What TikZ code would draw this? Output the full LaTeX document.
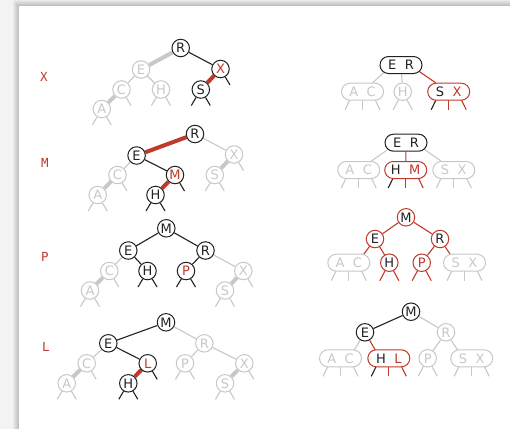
\documentclass[tikz,border=0pt]{standalone}
\usepackage{fontspec}
\setmainfont{DejaVu Sans}
\newfontfamily\labfont{DejaVu Sans Mono}
\usetikzlibrary{shapes.misc}
\pgfdeclarelayer{bg}
\pgfdeclarelayer{links}
\pgfsetlayers{bg,links,main}
\definecolor{ink}{HTML}{222222}
\definecolor{pale}{HTML}{C8C8C8}
\definecolor{rd}{HTML}{C0392B}
\definecolor{pagebg}{HTML}{F3F3F3}
\tikzset{
  nd/.style={circle, minimum size=17.5pt, inner sep=0pt, line width=1pt, fill=white, font=\fontsize{13}{13}\selectfont},
  bk/.style={nd, draw=ink, text=ink},
  gy/.style={nd, draw=pale, text=pale},
  bkr/.style={nd, draw=ink, text=rd},
  rr/.style={nd, draw=rd, text=ink},
  rrr/.style={nd, draw=rd, text=rd},
  tri/.style={rounded rectangle, minimum width=42pt, minimum height=17pt, inner sep=0pt, line width=1pt, fill=white, font=\fontsize{13}{13}\selectfont},
  tbk/.style={tri, draw=ink, text=ink},
  tgy/.style={tri, draw=pale, text=pale},
  trd/.style={tri, draw=rd, text=ink},
  lk/.style={line width=1.1pt, draw=ink},
  lg/.style={line width=1.1pt, draw=pale},
  lr/.style={line width=1.1pt, draw=rd},
  tr/.style={line width=4pt, draw=rd},
  tg/.style={line width=4pt, draw=pale},
  rowlab/.style={text=rd, font=\labfont\fontsize{12.5}{13}\selectfont},
}
% null links of a binary-tree node
\newcommand\nullL[3]{\coordinate (#1-nl) at ([shift={(-9.5,#3)}]#1.center);
  \draw[#2] (#1) -- (#1-nl);}
\newcommand\nullR[3]{\coordinate (#1-nr) at ([shift={(9.5,#3)}]#1.center);
  \draw[#2] (#1) -- (#1-nr);}
% null links of a 3-node
\newcommand\nullsThree[4]{%
  \coordinate (#1-nl) at ([shift={(-17.5,18)}]#1.center);
  \coordinate (#1-nm) at ([shift={(0,18)}]#1.center);
  \coordinate (#1-nr) at ([shift={(17.5,18)}]#1.center);
  \draw[#2] ([xshift=-8.7pt]#1.center) -- (#1-nl);
  \draw[#3] (#1.center) -- (#1-nm);
  \draw[#4] ([xshift=8.7pt]#1.center) -- (#1-nr);}
\newcommand\gap{\hspace{8.5pt}}
\begin{document}
\begin{tikzpicture}[x=1pt,y=-1pt]
\useasboundingbox (0,0) rectangle (510,429);
\begin{pgfonlayer}{bg}
  \fill[pagebg] (0,0) rectangle (510,429);
  \foreach \i in {1,...,6} {\fill[black,opacity=0.035] (19-\i,6-\i) rectangle (510,429);}
  \fill[white] (19,6) rectangle (510,429);
\end{pgfonlayer}

% row labels
\node[rowlab] (labX) at (44,77) {X};
\node[rowlab] (labM) at (45,163) {M};
\node[rowlab] (labP) at (45,257) {P};
\node[rowlab] (labL) at (46,347) {L};

% ===== Row 1 left =====
\node[bk]  (aR) at (180.7,48) {R};
\node[gy]  (aE) at (141,69.5) {E};
\node[bkr] (aX) at (220.5,69) {X};
\node[gy]  (aC) at (121.5,89.5) {C};
\node[gy]  (aH) at (161,89.5) {H};
\node[bk]  (aS) at (200.8,89.5) {S};
\node[gy]  (aA) at (101.8,109) {A};
\begin{pgfonlayer}{links}
  \draw[tg] (aR) -- (aE);
  \draw[lk] (aR) -- (aX);
  \draw[tr] (aX) -- (aS);
  \draw[lg] (aE) -- (aC);
  \draw[lg] (aE) -- (aH);
  \draw[tg] (aC) -- (aA);
  \nullR{aX}{lk}{16} \nullL{aS}{lk}{16} \nullR{aS}{lk}{16}
  \nullR{aC}{lg}{16} \nullL{aH}{lg}{16} \nullR{aH}{lg}{16}
  \nullL{aA}{lg}{16} \nullR{aA}{lg}{16}
\end{pgfonlayer}

% ===== Row 1 right =====
\node[tbk] (pER) at (401,65) {E\gap R};
\node[tgy] (pAC) at (362.5,91.7) {A\gap C};
\node[gy]  (pH) at (402.7,91.7) {H};
\node[trd] (pSX) at (448.7,91.7) {S\gap\textcolor{rd}{X}};
\begin{pgfonlayer}{links}
  \draw[lg] ([xshift=-8.7pt]pER.center) -- (pAC);
  \draw[lg] (pER) -- (pH);
  \draw[lr] ([xshift=8.7pt]pER.center) -- (pSX);
  \nullsThree{pAC}{lg}{lg}{lg}
  \nullL{pH}{lg}{18} \nullR{pH}{lg}{18}
  \nullsThree{pSX}{lk}{lr}{lr}
\end{pgfonlayer}

% ===== Row 2 left =====
\node[bk]  (bR) at (195,134) {R};
\node[bk]  (bE) at (136.6,155.5) {E};
\node[gy]  (bX) at (234,154.5) {X};
\node[gy]  (bC) at (117.5,175) {C};
\node[bkr] (bM) at (175,175) {M};
\node[gy]  (bS) at (214.8,175) {S};
\node[gy]  (bA) at (97.7,195) {A};
\node[bk]  (bH) at (155.5,195) {H};
\begin{pgfonlayer}{links}
  \draw[tr] (bR) -- (bE);
  \draw[lg] (bR) -- (bX);
  \draw[lg] (bE) -- (bC);
  \draw[lk] (bE) -- (bM);
  \draw[tr] (bM) -- (bH);
  \draw[tg] (bX) -- (bS);
  \draw[tg] (bC) -- (bA);
  \nullR{bM}{lk}{16} \nullL{bH}{lk}{16} \nullR{bH}{lk}{16}
  \nullR{bC}{lg}{16} \nullL{bA}{lg}{16} \nullR{bA}{lg}{16}
  \nullR{bX}{lg}{16} \nullL{bS}{lg}{16} \nullR{bS}{lg}{16}
\end{pgfonlayer}

% ===== Row 2 right =====
\node[tbk] (qER) at (406,142.7) {E\gap R};
\node[tgy] (qAC) at (358.7,170) {A\gap C};
\node[trd] (qHM) at (405.7,170) {H\gap\textcolor{rd}{M}};
\node[tgy] (qSX) at (453.8,170) {S\gap X};
\begin{pgfonlayer}{links}
  \draw[lg] ([xshift=-8.7pt]qER.center) -- (qAC);
  \draw[lr] (qER) -- (qHM);
  \draw[lg] ([xshift=8.7pt]qER.center) -- (qSX);
  \nullsThree{qAC}{lg}{lg}{lg}
  \nullsThree{qHM}{lk}{lr}{lr}
  \nullsThree{qSX}{lg}{lg}{lg}
\end{pgfonlayer}

% ===== Row 3 left =====
\node[bk]  (cM) at (166.3,228.3) {M};
\node[bk]  (cE) at (128.3,250.5) {E};
\node[bk]  (cR) at (205.5,250.5) {R};
\node[gy]  (cC) at (109.3,271) {C};
\node[bk]  (cH) at (147.5,271) {H};
\node[bkr] (cP) at (186,271) {P};
\node[gy]  (cX) at (243.3,271) {X};
\node[gy]  (cA) at (90,290.5) {A};
\node[gy]  (cS) at (225,290.5) {S};
\begin{pgfonlayer}{links}
  \draw[lk] (cM) -- (cE);
  \draw[lk] (cM) -- (cR);
  \draw[lg] (cE) -- (cC);
  \draw[lk] (cE) -- (cH);
  \draw[lk] (cR) -- (cP);
  \draw[lg] (cR) -- (cX);
  \draw[tg] (cC) -- (cA);
  \draw[tg] (cX) -- (cS);
  \nullL{cH}{lk}{16} \nullR{cH}{lk}{16}
  \nullL{cP}{lk}{16} \nullR{cP}{lk}{16}
  \nullR{cC}{lg}{16} \nullL{cA}{lg}{16} \nullR{cA}{lg}{16}
  \nullR{cX}{lg}{16} \nullL{cS}{lg}{16} \nullR{cS}{lg}{16}
\end{pgfonlayer}

% ===== Row 3 right =====
\node[rr]  (rM) at (406,217.3) {M};
\node[rr]  (rE) at (375,239) {E};
\node[rr]  (rR) at (440,239) {R};
\node[tgy] (rAC) at (348.8,262.7) {A\gap C};
\node[rr]  (rH) at (389.3,262.7) {H};
\node[rrr] (rP) at (421.7,262.7) {P};
\node[tgy] (rSX) at (464.5,262.7) {S\gap X};
\begin{pgfonlayer}{links}
  \draw[lr] (rM) -- (rE);
  \draw[lr] (rM) -- (rR);
  \draw[lr] (rE) -- ([xshift=8.7pt]rAC.center);
  \draw[lr] (rE) -- (rH);
  \draw[lr] (rR) -- (rP);
  \draw[lr] (rR) -- ([xshift=-8.7pt]rSX.center);
  \nullsThree{rAC}{lg}{lg}{lg}
  \nullL{rH}{lr}{18} \nullR{rH}{lr}{18}
  \nullL{rP}{lr}{18} \nullR{rP}{lr}{18}
  \nullsThree{rSX}{lg}{lg}{lg}
\end{pgfonlayer}

% ===== Row 4 left =====
\node[bk]  (dM) at (166,322.3) {M};
\node[bk]  (dE) at (108.3,343.3) {E};
\node[gy]  (dR) at (204.3,343.3) {R};
\node[gy]  (dC) at (86.7,363.3) {C};
\node[bkr] (dL) at (147.7,363.3) {L};
\node[gy]  (dP) at (185,363.3) {P};
\node[gy]  (dX) at (244.3,363.3) {X};
\node[gy]  (dA) at (66.7,383.3) {A};
\node[bk]  (dH) at (128.3,383.3) {H};
\node[gy]  (dS) at (225,383.3) {S};
\begin{pgfonlayer}{links}
  \draw[lk] (dM) -- (dE);
  \draw[lg] (dM) -- (dR);
  \draw[lg] (dE) -- (dC);
  \draw[lk] (dE) -- (dL);
  \draw[tr] (dL) -- (dH);
  \draw[lg] (dR) -- (dP);
  \draw[lg] (dR) -- (dX);
  \draw[tg] (dC) -- (dA);
  \draw[tg] (dX) -- (dS);
  \nullR{dL}{lk}{16} \nullL{dH}{lk}{16} \nullR{dH}{lk}{16}
  \nullR{dC}{lg}{16} \nullL{dA}{lg}{16} \nullR{dA}{lg}{16}
  \nullL{dP}{lg}{16} \nullR{dP}{lg}{16}
  \nullR{dX}{lg}{16} \nullL{dS}{lg}{16} \nullR{dS}{lg}{16}
\end{pgfonlayer}

% ===== Row 4 right =====
\node[bk]  (sM) at (411,311.7) {M};
\node[bk]  (sE) at (365,332.3) {E};
\node[gy]  (sR) at (446,332.3) {R};
\node[tgy] (sAC) at (340.5,358.3) {A\gap C};
\node[trd] (sHL) at (388.8,358.3) {H\gap\textcolor{rd}{L}};
\node[gy]  (sP) at (427.7,358.3) {P};
\node[tgy] (sSX) at (471.7,358.3) {S\gap X};
\begin{pgfonlayer}{links}
  \draw[lk] (sM) -- (sE);
  \draw[lg] (sM) -- (sR);
  \draw[lg] (sE) -- ([xshift=8.7pt]sAC.center);
  \draw[lr] (sE) -- ([xshift=-8.7pt]sHL.center);
  \draw[lg] (sR) -- (sP);
  \draw[lg] (sR) -- ([xshift=-8.7pt]sSX.center);
  \nullsThree{sAC}{lg}{lg}{lg}
  \nullsThree{sHL}{lk}{lr}{lr}
  \nullL{sP}{lg}{18} \nullR{sP}{lg}{18}
  \nullsThree{sSX}{lg}{lg}{lg}
\end{pgfonlayer}
\end{tikzpicture}
\end{document}
